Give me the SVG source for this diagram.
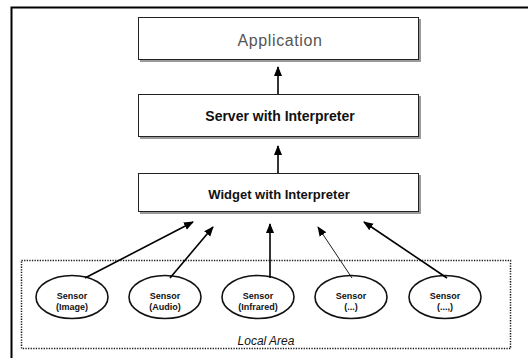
<svg xmlns="http://www.w3.org/2000/svg" width="528" height="358" viewBox="0 0 528 358">
  <style>
    .box { fill: #ffffff; stroke: #222222; stroke-width: 1; }
    .shadow { fill: #9a9a9a; }
    .ell { fill: #ffffff; stroke: #111111; stroke-width: 1.6; }
    .link { stroke: #000000; stroke-width: 1.6; fill: none; marker-end: url(#head); }
    .thin { stroke-width: 0.9; }
    .sensor { font-family: "Liberation Sans", Arial, sans-serif; font-size: 9px; font-weight: bold; fill: #111111; text-anchor: middle; }
    .label { font-family: "Liberation Sans", Arial, sans-serif; text-anchor: middle; fill: #111111; }
  </style>
  <defs>
    <marker id="head" viewBox="0 0 10 10" refX="9" refY="5" markerWidth="10" markerHeight="10" markerUnits="userSpaceOnUse" orient="auto">
      <path d="M0,1 L10,5 L0,9 Z" fill="#000000"/>
    </marker>
  </defs>

  <rect width="528" height="358" fill="#ffffff"/>

  <!-- outer frame (top and left edges) -->
  <path d="M11.5,358 L11.5,7.5 L528,7.5" fill="none" stroke="#000000" stroke-width="2"/>

  <!-- local area boundary -->
  <g id="local-area">
    <rect x="21.5" y="260.5" width="489" height="88" fill="none" stroke="#1a1a1a" stroke-width="1.5" stroke-dasharray="1.3,1.3"/>
    <text class="label" x="266" y="345" font-size="12" font-style="italic">Local Area</text>
  </g>

  <g id="application">
    <rect class="shadow" x="140" y="19" width="281" height="43"/>
    <rect class="box" x="138.5" y="17.5" width="280" height="42"/>
    <text class="label" x="280" y="46" font-size="16" letter-spacing="0.6" style="fill:#555555">Application</text>
  </g>

  <g id="server">
    <rect class="shadow" x="140" y="96" width="281" height="43"/>
    <rect class="box" x="138.5" y="94.5" width="280" height="42"/>
    <text class="label" x="280" y="121" font-size="14" font-weight="bold">Server with Interpreter</text>
  </g>

  <g id="widget">
    <rect class="shadow" x="140" y="175" width="281" height="39"/>
    <rect class="box" x="138.5" y="173.5" width="280" height="38"/>
    <text class="label" x="279" y="199" font-size="13" font-weight="bold">Widget with Interpreter</text>
  </g>

  <g id="sensor-image">
    <ellipse class="ell" cx="72" cy="297" rx="36" ry="21.5"/>
    <text class="sensor" x="72" y="299">Sensor</text>
    <text class="sensor" x="72" y="310">(Image)</text>
  </g>
  <g id="sensor-audio">
    <ellipse class="ell" cx="165" cy="297" rx="36" ry="21.5"/>
    <text class="sensor" x="165" y="299">Sensor</text>
    <text class="sensor" x="165" y="310">(Audio)</text>
  </g>
  <g id="sensor-infrared">
    <ellipse class="ell" cx="258" cy="297" rx="36" ry="21.5"/>
    <text class="sensor" x="258" y="299">Sensor</text>
    <text class="sensor" x="258" y="310">(Infrared)</text>
  </g>
  <g id="sensor-other-1">
    <ellipse class="ell" cx="351" cy="297" rx="36" ry="21.5"/>
    <text class="sensor" x="351" y="299">Sensor</text>
    <text class="sensor" x="351" y="310">(...)</text>
  </g>
  <g id="sensor-other-2">
    <ellipse class="ell" cx="445" cy="297" rx="36" ry="21.5"/>
    <text class="sensor" x="445" y="299">Sensor</text>
    <text class="sensor" x="445" y="310">(...,)</text>
  </g>

  <g id="connectors">
    <line class="link" x1="278" y1="94" x2="278" y2="67"/>
    <line class="link" x1="278" y1="173" x2="278" y2="146"/>
    <line class="link" x1="85" y1="278" x2="193" y2="222"/>
    <line class="link" x1="170" y1="278" x2="213" y2="227"/>
    <line class="link" x1="270" y1="278" x2="270" y2="224"/>
    <line class="link thin" x1="352" y1="278" x2="318" y2="227"/>
    <line class="link" x1="447" y1="278" x2="364" y2="222"/>
  </g>
</svg>
